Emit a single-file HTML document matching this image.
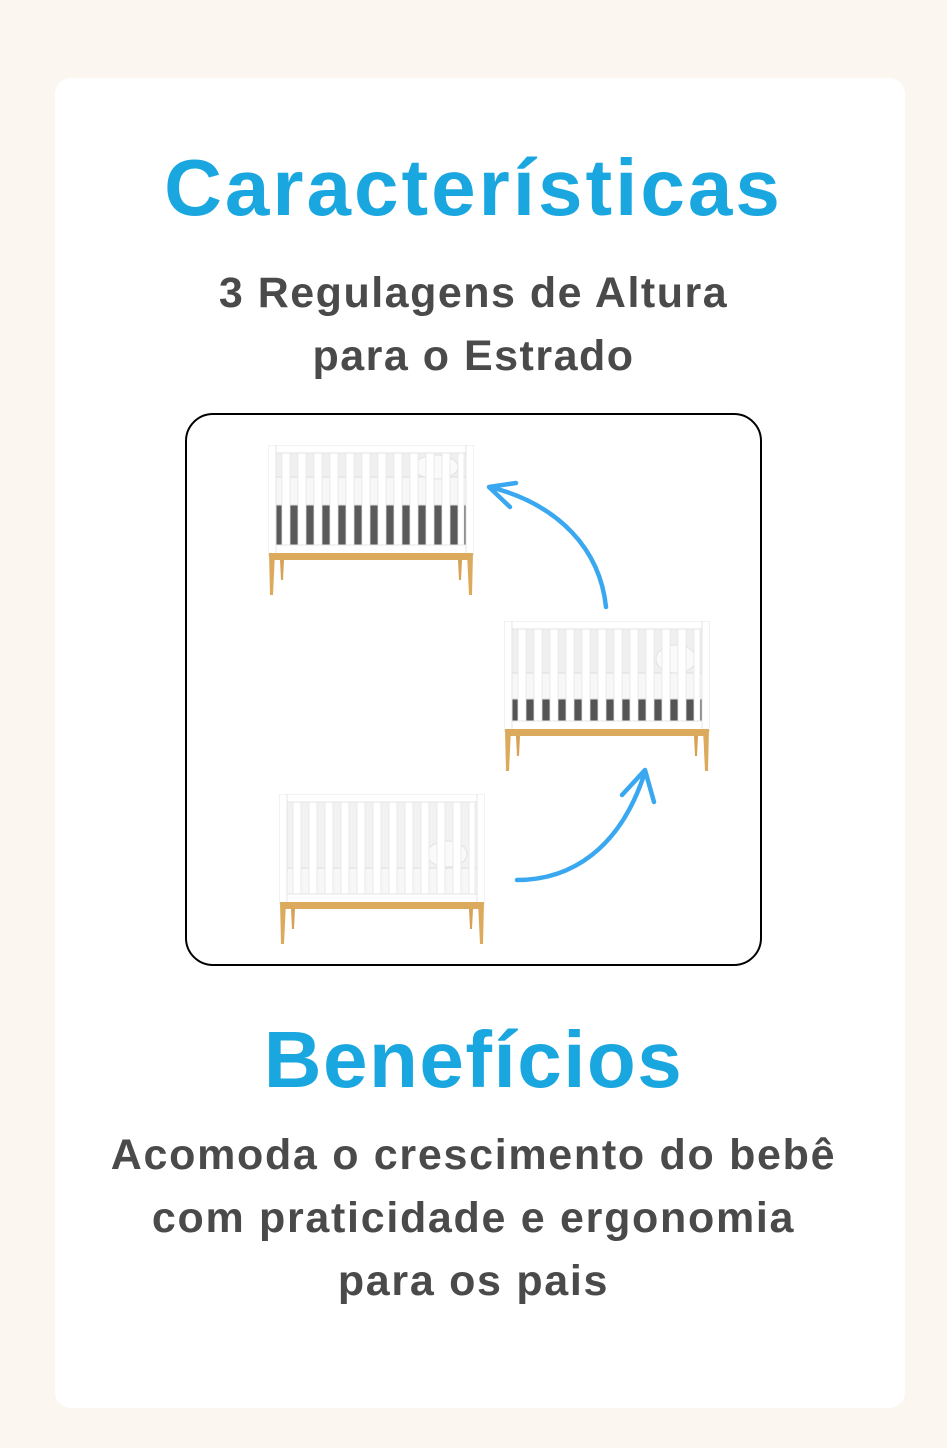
<!DOCTYPE html>
<html><head><meta charset="utf-8"><style>
body{margin:0;width:947px;height:1448px;background:#fbf7f0;font-family:"Liberation Sans",sans-serif;position:relative;overflow:hidden}
.card{position:absolute;left:55px;top:78px;width:850px;height:1330px;background:#fff;border-radius:16px}
.t{position:absolute;left:0;width:947px;text-align:center;font-weight:bold;white-space:nowrap}
.h{color:#1aa7e0;font-size:80px;line-height:92px}
.s{color:#4a4a4a;font-size:43px}
.box{position:absolute;left:185px;top:413px;width:573px;height:549px;border:2px solid #000;border-radius:28px;background:#fff}
svg.c{position:absolute}
</style></head><body>
<div class="card"></div>
<div class="t h" style="top:142px;letter-spacing:3px">Características</div>
<div class="t s" style="top:262px;line-height:63px;letter-spacing:1.5px">3 Regulagens de Altura<br>para o Estrado</div>
<div class="box"></div>

<svg width="0" height="0" style="position:absolute">
<defs>
<g id="slats">
<g fill="#fff" stroke="#e6e6e6" stroke-width="0.8">
<rect x="14" y="8" width="8" height="92"/><rect x="30" y="8" width="8" height="92"/><rect x="46" y="8" width="8" height="92"/><rect x="62" y="8" width="8" height="92"/><rect x="78" y="8" width="8" height="92"/><rect x="94" y="8" width="8" height="92"/><rect x="110" y="8" width="8" height="92"/><rect x="126" y="8" width="8" height="92"/><rect x="142" y="8" width="8" height="92"/><rect x="158" y="8" width="8" height="92"/><rect x="174" y="8" width="8" height="92"/><rect x="190" y="8" width="6" height="92"/>
</g>
<rect x="0" y="0" width="206" height="8" fill="#fff" stroke="#e4e4e4"/>
<rect x="0" y="100" width="206" height="9" fill="#fff" stroke="#e4e4e4"/>
<rect x="0" y="0" width="8" height="110" fill="#fff" stroke="#e4e4e4"/>
<rect x="198" y="0" width="8" height="110" fill="#fff" stroke="#e4e4e4"/>
<rect x="2" y="108" width="202" height="7" fill="#dcaa5c"/>
<polygon points="1,108 7,108 5,150 2,150" fill="#dcaa5c"/>
<polygon points="199,108 205,108 204,150 201,150" fill="#dcaa5c"/>
<polygon points="12,115 16,115 15,135 13,135" fill="#d7a256"/>
<polygon points="190,115 194,115 193,135 191,135" fill="#d7a256"/>
</g>
</defs>
</svg>

<svg class="c" style="left:268px;top:445px" width="206" height="152" viewBox="0 0 206 152">
<rect x="8" y="8" width="190" height="92" fill="#f0f0f0"/>
<rect x="8" y="60" width="190" height="40" fill="#5a5a5a"/>
<rect x="8" y="32" width="190" height="28" fill="#f7f7f7" stroke="#ddd"/>
<ellipse cx="168" cy="22" rx="22" ry="12" fill="#fafafa" stroke="#e2e2e2"/>
<use href="#slats"/>
</svg>
<svg class="c" style="left:504px;top:621px" width="206" height="152" viewBox="0 0 206 152">
<rect x="8" y="8" width="190" height="92" fill="#f0f0f0"/>
<rect x="8" y="78" width="190" height="22" fill="#555"/>
<rect x="8" y="52" width="190" height="26" fill="#f7f7f7" stroke="#ddd"/>
<ellipse cx="172" cy="38" rx="20" ry="14" fill="#fafafa" stroke="#e2e2e2"/>
<use href="#slats"/>
</svg>
<svg class="c" style="left:279px;top:794px" width="206" height="152" viewBox="0 0 206 152">
<rect x="8" y="8" width="190" height="92" fill="#f2f2f2"/>
<rect x="8" y="74" width="190" height="26" fill="#f7f7f7" stroke="#ddd"/>
<ellipse cx="168" cy="60" rx="20" ry="13" fill="#fafafa" stroke="#e2e2e2"/>
<use href="#slats"/>
</svg>

<svg class="c" style="left:0;top:0" width="947" height="1448">
<g fill="none" stroke="#3aa8f0" stroke-width="4.5" stroke-linecap="round" stroke-linejoin="round">
<path d="M606 607 C600 550 560 505 490 487"/>
<path d="M516 483 L489 487 L510 507"/>
<path d="M517 880 C570 880 620 850 645 772"/>
<path d="M622 795 L645 770 L654 802"/>
</g>
</svg>

<div class="t h" style="top:1014px;letter-spacing:1.5px">Benefícios</div>
<div class="t s" style="top:1124px;line-height:63px;letter-spacing:1.7px">Acomoda o crescimento do bebê<br>com praticidade e ergonomia<br>para os pais</div>
</body></html>
